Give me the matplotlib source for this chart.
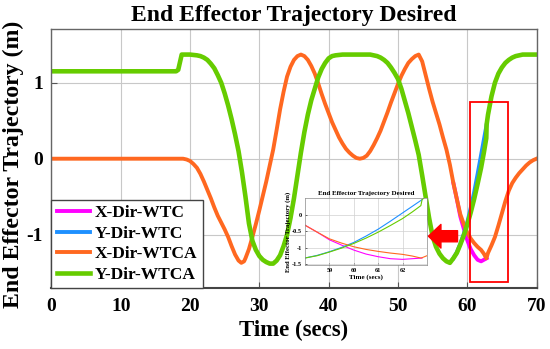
import matplotlib
matplotlib.use("Agg")
import matplotlib.pyplot as plt
from matplotlib.patches import Rectangle

# ---------------- data ----------------
t_y_wtca = [0, 18, 18.3, 18.8, 20, 21, 21.5, 22, 22.5, 23, 23.5, 24, 24.5, 25, 25.5, 26, 26.5,
            27, 27.5, 28, 28.5, 29, 29.5, 30, 30.5, 31, 31.5, 32, 32.5, 33, 33.5, 34, 34.5,
            35, 35.5, 36, 36.5, 37, 37.5, 38, 38.5, 39, 39.5, 40, 40.5, 41, 42, 46, 46.5, 47,
            47.5, 48, 48.5, 49, 49.5, 50, 50.5, 51, 51.5, 52, 52.5, 53, 53.5, 54, 54.5, 55,
            55.5, 56, 56.5, 57, 57.5, 58, 58.5, 59, 59.5, 60, 60.5, 61, 61.5, 62, 62.4, 62.75,
            62.8, 63, 63.5, 64, 64.5, 65, 65.5, 66, 66.5, 67, 67.5, 68, 70]
y_dir_wtca = [1.15, 1.15, 1.17, 1.37, 1.37, 1.36, 1.35, 1.33, 1.30, 1.25, 1.19, 1.10, 1.00,
              0.86, 0.70, 0.52, 0.32, 0.10, -0.18, -0.50, -0.85, -1.08, -1.20, -1.28, -1.33,
              -1.36, -1.38, -1.38, -1.34, -1.27, -1.15, -1.00, -0.78, -0.52, -0.22, 0.08, 0.35,
              0.58, 0.77, 0.92, 1.07, 1.18, 1.26, 1.32, 1.35, 1.36, 1.37, 1.37, 1.36, 1.35,
              1.33, 1.30, 1.26, 1.20, 1.13, 1.05, 0.92, 0.76, 0.60, 0.42, 0.24, 0.05, -0.22,
              -0.50, -0.78, -1.02, -1.16, -1.25, -1.31, -1.35, -1.37, -1.31, -1.24, -1.13,
              -1.01, -0.87, -0.71, -0.53, -0.33, -0.12, 0.08, 0.27, 0.45, 0.58, 0.82, 1.00,
              1.12, 1.20, 1.26, 1.30, 1.33, 1.35, 1.36, 1.37, 1.37]

t_x_wtca = [0, 19, 19.5, 20, 20.5, 21, 21.5, 22, 22.5, 23, 23.5, 24, 24.5, 25, 25.5, 26, 26.5,
            27, 27.4, 27.8, 28, 28.5, 29, 29.5, 30, 30.5, 31, 31.5, 32, 32.5, 33, 33.5, 34,
            34.5, 35, 35.5, 36, 36.5, 37, 37.5, 38, 38.5, 39, 39.5, 40, 40.5, 41, 41.5, 42,
            42.5, 43, 43.5, 44, 44.5, 45, 45.5, 46, 46.5, 47, 47.5, 48, 48.5, 49, 49.5, 50,
            50.5, 51, 51.5, 52, 52.5, 53, 53.5, 54, 54.5, 55, 55.5, 56, 56.5, 57, 57.5, 58,
            58.5, 59, 59.5, 60, 60.5, 61, 61.5, 62, 62.4, 62.75, 62.8, 63, 63.5, 64, 64.5, 65,
            65.5, 66, 66.5, 67, 67.5, 68, 68.5, 69, 69.5, 70]
x_dir_wtca = [0.0, 0.0, -0.01, -0.03, -0.07, -0.12, -0.20, -0.30, -0.41, -0.52, -0.64, -0.75,
              -0.84, -0.93, -1.03, -1.15, -1.26, -1.34, -1.37, -1.35, -1.31, -1.19, -1.03,
              -0.86, -0.68, -0.49, -0.30, -0.09, 0.12, 0.38, 0.65, 0.88, 1.08, 1.21, 1.30,
              1.35, 1.37, 1.35, 1.30, 1.22, 1.12, 0.99, 0.85, 0.72, 0.60, 0.48, 0.38, 0.28,
              0.20, 0.13, 0.08, 0.04, 0.01, 0.00, 0.01, 0.04, 0.10, 0.18, 0.27, 0.37, 0.49,
              0.61, 0.74, 0.86, 0.98, 1.09, 1.18, 1.26, 1.31, 1.35, 1.37, 1.28, 1.10, 0.92,
              0.75, 0.60, 0.45, 0.28, 0.12, -0.08, -0.32, -0.53, -0.73, -0.86, -0.97, -1.05,
              -1.11, -1.16, -1.20, -1.25, -1.31, -1.30, -1.24, -1.14, -1.03, -0.88, -0.72,
              -0.56, -0.42, -0.32, -0.25, -0.19, -0.14, -0.09, -0.05, -0.02, 0.00]

t_wtc = [58, 58.5, 59, 59.5, 60, 60.5, 61, 61.5, 62, 62.4, 62.8]
x_dir_wtc = [-0.32, -0.53, -0.76, -0.92, -1.07, -1.19, -1.27, -1.33, -1.35, -1.33, -1.31]
y_dir_wtc = [-1.31, -1.23, -1.12, -0.99, -0.84, -0.65, -0.44, -0.20, 0.05, 0.25, 0.45]

labels = ["X-Dir-WTC", "Y-Dir-WTC", "X-Dir-WTCA", "Y-Dir-WTCA"]
colors = ["#FF00FF", "#1E90FF", "#FF6820", "#66CC00"]
x_ticks = [0, 10, 20, 30, 40, 50, 60, 70]
y_ticks = [-1, 0, 1]
inset_x_ticks = [59, 60, 61, 62]
inset_y_ticks = [0, -0.5, -1, -1.5]
inset_y_labels = ["0", "-0.5", "-1", "-1.5"]

# ---------------- style ----------------
plt.rcParams['font.family'] = ['Liberation Serif', 'DejaVu Serif']
plt.rcParams['font.weight'] = 'bold'

fig = plt.figure(figsize=(5.5, 3.49), dpi=100)
ax = fig.add_axes([0.0935, 0.175, 0.882, 0.7405])

series = [(t_wtc, x_dir_wtc), (t_wtc, y_dir_wtc), (t_x_wtca, x_dir_wtca), (t_y_wtca, y_dir_wtca)]
lws = [2.8, 2.8, 2.8, 3.3]
for (tt, vv), c, lab, lw in zip(series, colors, labels, lws):
    ax.plot(tt, vv, color=c, lw=lw, label=lab, solid_joinstyle='round')

ax.set_xlim(0, 70)
ax.set_ylim(-1.7, 1.7)
ax.set_xticks(x_ticks)
ax.set_yticks(y_ticks)
ax.set_xticklabels([str(v) for v in x_ticks], fontsize=14, fontweight='bold')
ax.set_yticklabels([str(v) for v in y_ticks], fontsize=14, fontweight='bold')
ax.tick_params(axis='x', direction='in', length=4, width=0.8, color='#555555', pad=7)
ax.tick_params(axis='y', direction='in', length=4, width=0.8, color='#555555', pad=6)
ax.grid(True, color='#c8c8c8', lw=0.8)
ax.set_axisbelow(True)
for s in ax.spines.values():
    s.set_color('#666666')
    s.set_linewidth(1.0)
ax.spines['bottom'].set_color('#444444')
ax.spines['bottom'].set_linewidth(1.5)

ax.set_title("End Effector Trajectory Desired", fontsize=17, fontweight='bold', pad=6)
ax.set_xlabel("Time (secs)", fontsize=16.5, fontweight='bold')
ax.set_ylabel("End Effector Trajectory (m)", fontsize=17.2, fontweight='bold')
ax.xaxis.set_label_coords(0.5, -0.125)
ax.yaxis.set_label_coords(-0.056, 0.48)

leg = ax.legend(loc='lower left', prop={'size': 12.5, 'weight': 'bold'}, frameon=True,
                fancybox=False, borderaxespad=0.0, handlelength=1.9, handletextpad=0.3,
                labelspacing=0.25, borderpad=0.3)
leg.get_frame().set_edgecolor('#444444')
leg.get_frame().set_linewidth(1.0)
leg.get_frame().set_alpha(1.0)

# red box
ax.add_patch(Rectangle((60.4, -1.62), 5.5, 2.37, fill=False, edgecolor='red', lw=1.3, zorder=5))

# red arrow
ax.annotate('', xy=(54.4, -1.02), xytext=(58.6, -1.02),
            arrowprops=dict(arrowstyle='simple,head_length=0.9,head_width=1.7,tail_width=0.8',
                            color='red', mutation_scale=10, shrinkA=0, shrinkB=0), zorder=6)

# inset
ia = fig.add_axes([0.5545, 0.2407, 0.2218, 0.192])
for (tt, vv), c in zip(series, colors):
    ia.plot(tt, vv, color=c, lw=0.8)
ia.set_xlim(58, 63)
ia.set_ylim(-1.52, 0.5)
ia.set_xticks(inset_x_ticks)
ia.set_yticks(inset_y_ticks)
ia.set_xticklabels([str(v) for v in inset_x_ticks], fontsize=4.5, fontweight='bold')
ia.set_yticklabels(inset_y_labels, fontsize=4.5, fontweight='bold')
ia.tick_params(direction='in', length=1.5, width=0.4, pad=2)
ia.grid(True, color='#d0d0d0', lw=0.5)
for s in ia.spines.values():
    s.set_color('#888888')
    s.set_linewidth(0.5)
ia.set_title("End Effector Trajectory Desired", fontsize=5, fontweight='bold', pad=2)
ia.set_xlabel("Time (secs)", fontsize=5, fontweight='bold', labelpad=1)
ia.set_ylabel("End Effector Trajectory (m)", fontsize=4.8, fontweight='bold', labelpad=1)

fig.savefig("out.png", dpi=100)
